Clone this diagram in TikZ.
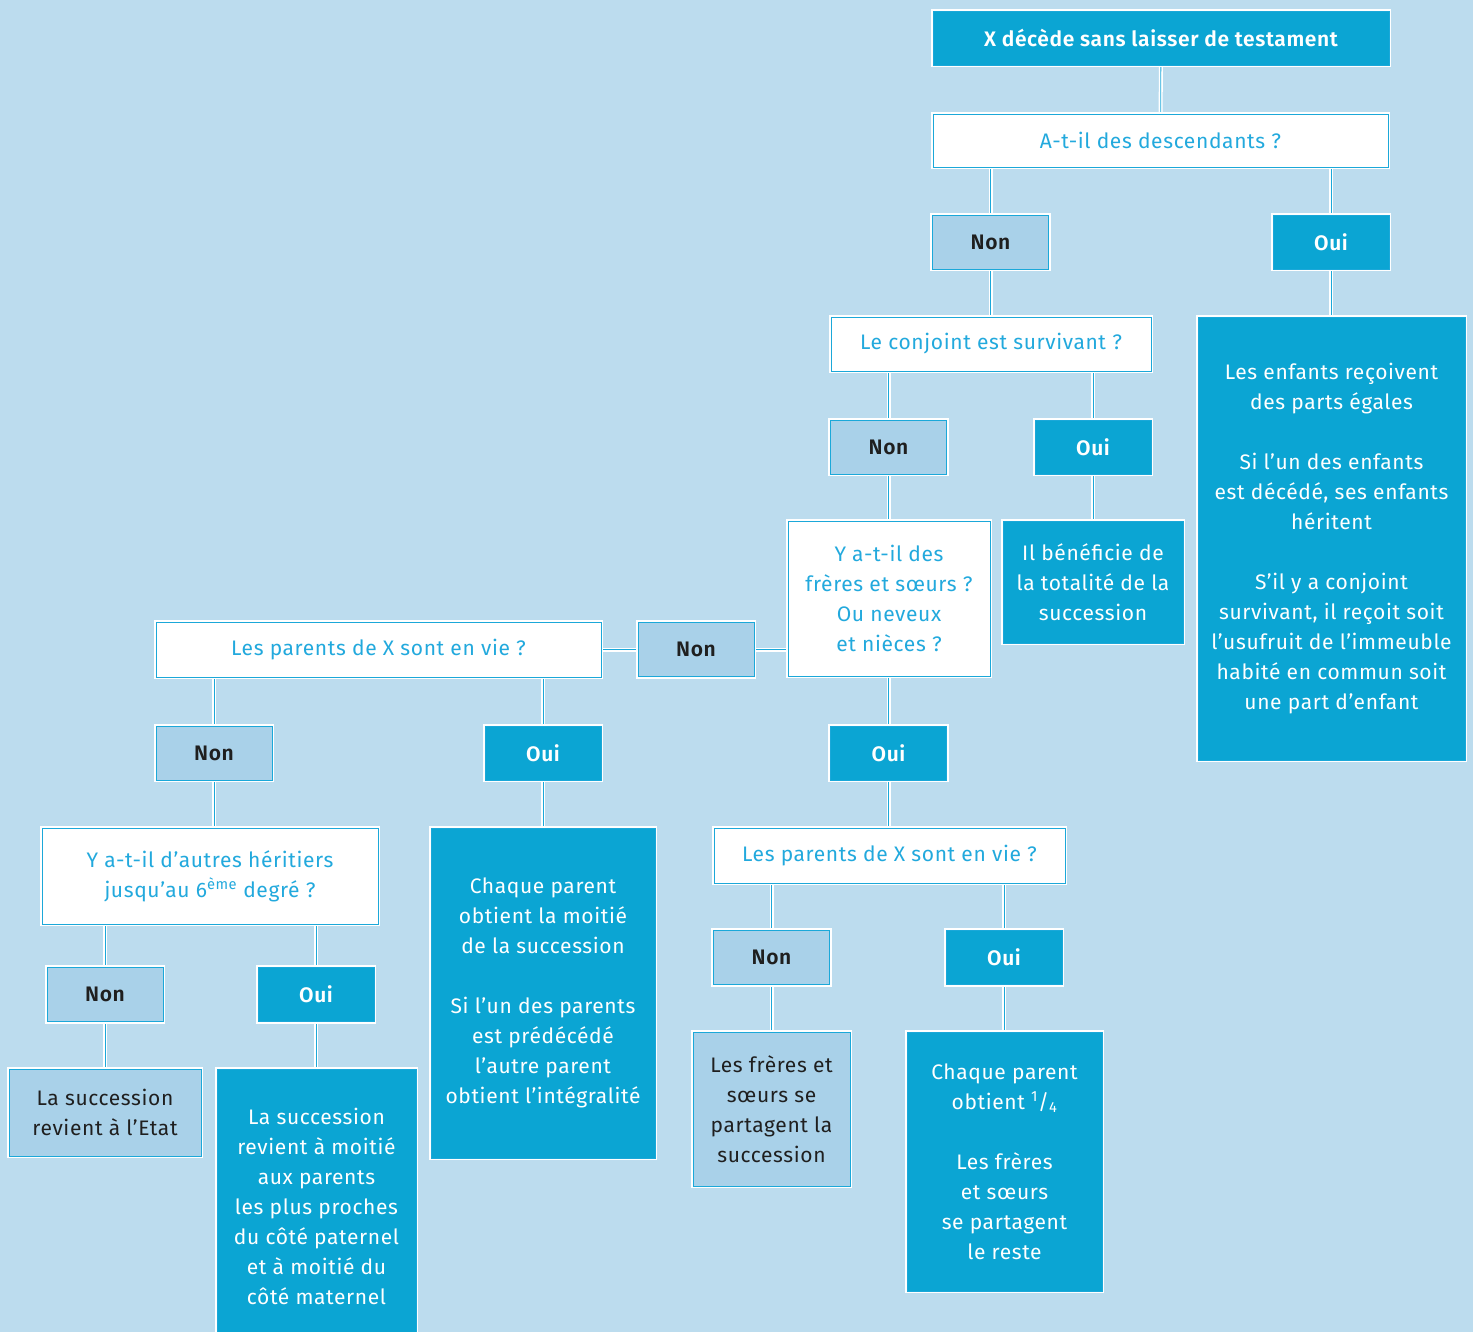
\documentclass[tikz,border=0pt]{standalone}
\usepackage{fontspec}
\setmainfont{Fira Sans}[LetterSpace=3, BoldFont={Fira Sans SemiBold}]
\usetikzlibrary{backgrounds}
\definecolor{BG}{HTML}{BCDCEE}
\definecolor{DK}{HTML}{0BA5D3}
\definecolor{LT}{HTML}{A9D1E9}
\definecolor{LN}{HTML}{1BA8D9}
\definecolor{TX}{HTML}{22A9DD}
\tikzset{
  box/.style={preaction={draw=white,line width=4.5pt}, draw=LN, line width=0.9pt,
    inner sep=0pt, align=center, font=\fontsize{21}{30}\selectfont},
  dark/.style={box, fill=DK, text=white},
  light/.style={box, fill=LT, text=black!88},
  quest/.style={box, fill=white, text=TX},
  sz/.style 2 args={minimum width=#1pt, minimum height=#2pt},
  yes/.style={dark, sz={116}{54}, font=\fontsize{21}{30}\selectfont\bfseries},
  no/.style={light, sz={116}{54}, font=\fontsize{21}{30}\selectfont\bfseries},
  link/.style={draw=white, line width=4pt, postaction={draw=LN, line width=0.8pt}}
}
\begin{document}
\begin{tikzpicture}[x=1pt, y=-1pt]
  \useasboundingbox (0,0) rectangle (1473,1332);

  \node[dark, sz={456}{54}, font=\fontsize{21}{30}\selectfont\bfseries] (top) at (1161,38)
    {X décède sans laisser de testament};
  \node[quest, sz={455}{53}] (desc) at (1160.5,140.5) {A-t-il des descendants ?};
  \node[no] (non1) at (990.5,242) {Non};
  \node[yes] (oui1) at (1331,242) {Oui};
  \node[quest, sz={320}{54}] (conj) at (991,344) {Le conjoint est survivant ?};
  \node[dark, sz={267}{443}] (enfants) at (1331.5,538.5)
    {Les enfants reçoivent\\des parts égales\\[30pt]
     Si l’un des enfants\\est décédé, ses enfants\\héritent\\[30pt]
     S’il y a conjoint\\survivant, il reçoit soit\\l’usufruit de l’immeuble\\
     habité en commun soit\\une part d’enfant};
  \node[no] (non2) at (888.5,447) {Non};
  \node[yes] (oui2) at (1093,447) {Oui};
  \node[quest, sz={202}{155}] (freres) at (889,598.5)
    {Y a-t-il des\\frères et sœurs ?\\Ou neveux\\et nièces ?};
  \node[dark, sz={180}{122}] (conjoint) at (1093,582)
    {Il bénéficie de\\la totalité de la\\succession};
  \node[no] (non3) at (696,649.5) {Non};
  \node[quest, sz={445}{55}] (parentsA) at (378.5,649.5) {Les parents de X sont en vie ?};
  \node[no] (non4) at (214,753) {Non};
  \node[yes] (oui4) at (543,753) {Oui};
  \node[yes] (oui3) at (888.5,753) {Oui};
  \node[quest, sz={336}{96}] (heritiers) at (210,876)
    {Y a-t-il d’autres héritiers\\jusqu’au 6\textsuperscript{ème} degré ?};
  \node[dark, sz={224}{330}] (moitie) at (543,993)
    {Chaque parent\\obtient la moitié\\de la succession\\[30pt]
     Si l’un des parents\\est prédécédé\\l’autre parent\\obtient l’intégralité};
  \node[quest, sz={351}{55}] (parentsB) at (889.5,855.5) {Les parents de X sont en vie ?};
  \node[no] (non5) at (105,994.5) {Non};
  \node[yes] (oui5) at (316,994.5) {Oui};
  \node[no] (non6) at (771.5,957.5) {Non};
  \node[yes] (oui6) at (1004,957.5) {Oui};
  \node[light, sz={192}{87}] (etat) at (105,1112.5) {La succession\\revient à l’Etat};
  \node[dark, sz={199}{274}] (proches) at (316.5,1206)
    {La succession\\revient à moitié\\aux parents\\les plus proches\\
     du côté paternel\\et à moitié du\\côté maternel};
  \node[light, sz={157}{154}] (partage) at (771.5,1109)
    {Les frères et\\sœurs se\\partagent la\\succession};
  \node[dark, sz={195}{259}] (quart) at (1004.5,1161.5)
    {Chaque parent\\obtient \textsuperscript{1}/\textsubscript{4}\\[30pt]
     Les frères\\et sœurs\\se partagent\\le reste};

  \begin{scope}[on background layer]
    \fill[BG] (0,0) rectangle (1473,1332);
    \draw[link] (top) -- (desc);
    \draw[link] (desc.south -| non1) -- (non1);
    \draw[link] (desc.south -| oui1) -- (oui1);
    \draw[link] (non1) -- (conj.north -| non1);
    \draw[link] (oui1) -- (enfants.north -| oui1);
    \draw[link] (conj.south -| non2) -- (non2);
    \draw[link] (conj.south -| oui2) -- (oui2);
    \draw[link] (oui2) -- (conjoint.north -| oui2);
    \draw[link] (non2) -- (freres.north -| non2);
    \draw[link] (freres.west |- non3) -- (non3) -- (parentsA.east |- non3);
    \draw[link] (freres.south -| oui3) -- (oui3);
    \draw[link] (oui3) -- (parentsB.north -| oui3);
    \draw[link] (parentsA.south -| non4) -- (non4);
    \draw[link] (parentsA.south -| oui4) -- (oui4);
    \draw[link] (non4) -- (heritiers.north -| non4);
    \draw[link] (oui4) -- (moitie.north -| oui4);
    \draw[link] (heritiers.south -| non5) -- (non5);
    \draw[link] (heritiers.south -| oui5) -- (oui5);
    \draw[link] (non5) -- (etat.north -| non5);
    \draw[link] (oui5) -- (proches.north -| oui5);
    \draw[link] (parentsB.south -| non6) -- (non6);
    \draw[link] (parentsB.south -| oui6) -- (oui6);
    \draw[link] (non6) -- (partage.north -| non6);
    \draw[link] (oui6) -- (quart.north -| oui6);
  \end{scope}
\end{tikzpicture}
\end{document}
